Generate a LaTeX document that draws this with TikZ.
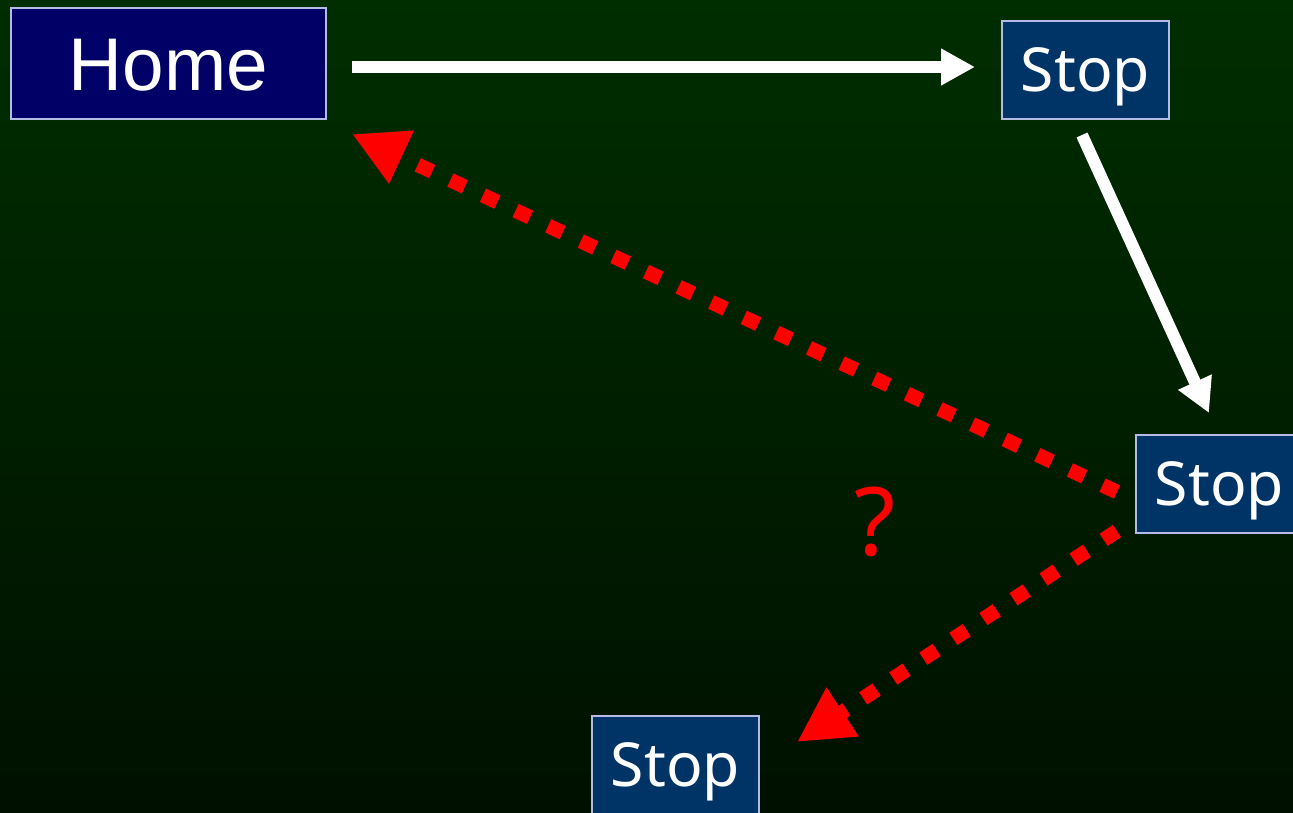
\documentclass[tikz,border=0pt]{standalone}
\usepackage{fontspec}
\usetikzlibrary{arrows.meta}
\newfontfamily\homefont{Liberation Sans}
\newfontfamily\stopfont{Noto Sans}
\definecolor{bgtop}{RGB}{0,46,0}
\definecolor{bgbot}{RGB}{0,16,0}
\definecolor{homefill}{RGB}{0,0,102}
\definecolor{stopfill}{RGB}{0,51,102}
\definecolor{boxline}{RGB}{180,188,230}
\begin{document}
\begin{tikzpicture}[x=0.75pt,y=-0.75pt,
  boxstyle/.style={draw=boxline,line width=1.5pt,inner sep=0pt,text=white},
  homebox/.style={boxstyle,fill=homefill,minimum width=236pt,minimum height=83pt,
     font=\homefont\fontsize{56}{60}\selectfont,text height=40pt,text depth=0pt},
  stopbox/.style={boxstyle,fill=stopfill,minimum width=125pt,minimum height=73pt,
     font=\stopfont\fontsize{45.5}{50}\selectfont,text height=32.5pt,text depth=0pt},
  whitearrow/.style={draw=white,line width=9pt,-{Triangle[length=25.5pt,width=26pt]}},
  redarrow/.style={draw=red,line width=11pt,dash pattern=on 12pt off 15pt,
     -{Triangle[length=41pt,width=41pt]}}]
\useasboundingbox (0,0) rectangle (1293,813);
\clip (0,0) rectangle (1293,813);
\shade[top color=bgtop,bottom color=bgbot] (0,0) rectangle (1293,813);

\node[homebox] (home) at (168.5,63.5) {Home};
\node[stopbox] (s1) at (1085.5,70) {Stop};
\node[stopbox] (s2) at (1219.5,484) {Stop};
\node[stopbox] (s3) at (675.5,765) {Stop};

\coordinate (a1s) at (352,67);
\coordinate (a1e) at (975,67);
\coordinate (a2s) at (1082,135);
\coordinate (a2e) at (1209,413);
\coordinate (r1s) at (1117,492);
\coordinate (r1e) at (352,134);
\coordinate (r2s) at (1117,531);
\coordinate (r2e) at (797,742);

\draw[whitearrow] (a1s) -- (a1e);
\draw[whitearrow] (a2s) -- (a2e);
\draw[redarrow] (r1s) -- (r1e);
\draw[redarrow] (r2s) -- (r2e);

\node[text=red,font=\stopfont\fontsize{71}{75}\selectfont,inner sep=0pt,text height=51pt,text depth=0pt] (q) at (875,521) {?};
\end{tikzpicture}
\end{document}
